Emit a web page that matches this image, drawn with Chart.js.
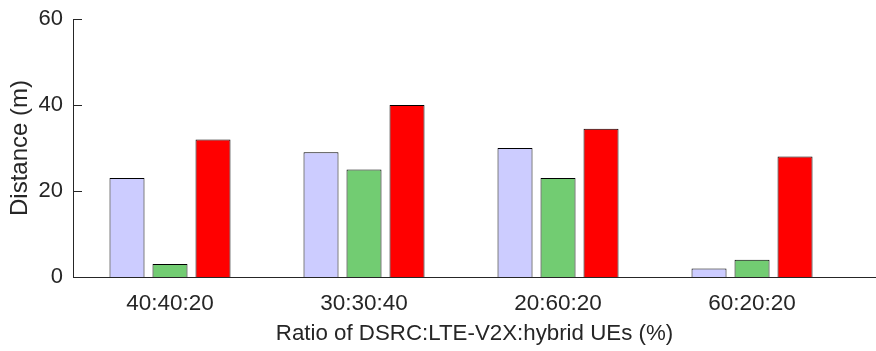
<!DOCTYPE html>
<html>
<head>
<meta charset="utf-8">
<script src="https://cdn.jsdelivr.net/npm/chart.js@4/dist/chart.umd.min.js"></script>
<style>
  html, body { margin: 0; padding: 0; background: #fff; }
  #wrap { width: 876px; height: 351px; }
</style>
</head>
<body>
<div id="wrap"><canvas id="c" width="876" height="351"></canvas></div>
<script>
// Category labels and per-category distances (m)
const categories = ['40:40:20', '30:30:40', '20:60:20', '60:20:20'];
const seriesLavender = [23, 29, 30, 2];
const seriesGreen = [3, 25, 23, 4];
const seriesRed = [32, 40, 34.5, 28];
const yTicks = [0, 20, 40, 60];

const axisColor = '#262626';
const fontFamily = '"Liberation Sans", Arial, sans-serif';

function toPoints(values) {
  return values.map((v, i) => ({ x: i + 1, y: v }));
}

// Short inward tick marks on the value axis
const innerTicks = {
  id: 'innerTicks',
  afterDraw(chart) {
    const ctx = chart.ctx;
    const y = chart.scales.y;
    const left = chart.chartArea.left;
    ctx.save();
    ctx.strokeStyle = axisColor;
    ctx.lineWidth = 1;
    yTicks.forEach(t => {
      const py = Math.round(y.getPixelForValue(t)) + 0.5;
      ctx.beginPath();
      ctx.moveTo(left, py);
      ctx.lineTo(left + 9, py);
      ctx.stroke();
    });
    ctx.restore();
  }
};

const barStyle = { borderColor: '#000', borderWidth: 1, borderSkipped: 'bottom' };

new Chart(document.getElementById('c'), {
  type: 'bar',
  data: {
    datasets: [
      Object.assign({ data: toPoints(seriesLavender), backgroundColor: '#ccccff' }, barStyle),
      Object.assign({ data: toPoints(seriesGreen), backgroundColor: '#72cc72' }, barStyle),
      Object.assign({ data: toPoints(seriesRed), backgroundColor: '#ff0000' }, barStyle)
    ]
  },
  options: {
    responsive: false,
    animation: false,
    events: [],
    layout: { padding: { top: 19, right: 0, bottom: 0, left: 0 } },
    categoryPercentage: 0.665,
    barPercentage: 0.814,
    plugins: { legend: { display: false }, tooltip: { enabled: false } },
    scales: {
      x: {
        type: 'linear',
        offset: false,
        min: 0.5,
        max: 4.639,
        afterBuildTicks(scale) { scale.ticks = [1, 2, 3, 4].map(v => ({ value: v })); },
        afterFit(scale) { scale.height = 74; scale.paddingLeft = 0; scale.paddingRight = 0; },
        grid: { display: false, drawTicks: false },
        border: { display: true, color: axisColor, width: 1 },
        ticks: {
          autoSkip: false,
          maxRotation: 0,
          padding: 13,
          color: axisColor,
          font: { family: fontFamily, size: 22.5 },
          callback: v => categories[v - 1] || ''
        },
        title: {
          display: true,
          text: 'Ratio of DSRC:LTE-V2X:hybrid UEs (%)',
          color: axisColor,
          font: { family: fontFamily, size: 22.3 },
          padding: { top: 0, bottom: 4 }
        }
      },
      y: {
        min: 0,
        max: 60,
        afterBuildTicks(scale) { scale.ticks = yTicks.map(v => ({ value: v })); },
        afterFit(scale) { scale.width = 73; scale.paddingTop = 0; scale.paddingBottom = 0; },
        grid: { display: false, drawTicks: false },
        border: { display: true, color: axisColor, width: 1 },
        ticks: {
          padding: 10,
          color: axisColor,
          font: { family: fontFamily, size: 22 }
        },
        title: {
          display: true,
          text: 'Distance (m)',
          color: axisColor,
          font: { family: fontFamily, size: 24 },
          padding: { top: 6, bottom: 0 }
        }
      }
    }
  },
  plugins: [innerTicks]
});
</script>
</body>
</html>
